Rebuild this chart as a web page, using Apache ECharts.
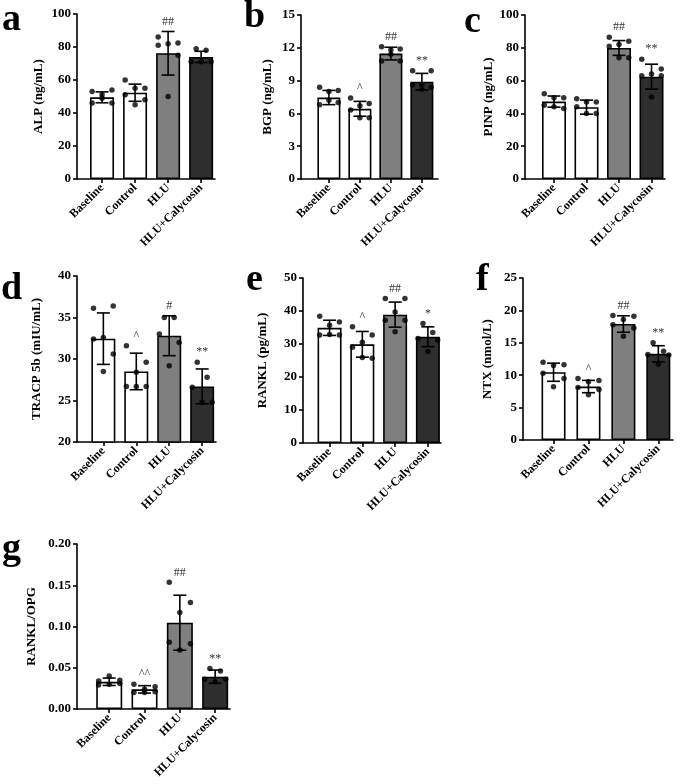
<!DOCTYPE html>
<html><head><meta charset="utf-8">
<script src="https://cdn.jsdelivr.net/npm/echarts@6/dist/echarts.min.js"></script>
<style>html,body{margin:0;padding:0;background:#fff}#c{width:685px;height:784px}</style>
</head><body><div id="c"></div>
<script>
const categories = ['Baseline', 'Control', 'HLU', 'HLU+Calycosin'];

const alpMean = [49.5, 52.3, 76.2, 74.0];
const alpSD = [3.3, 5.2, 13.2, 3.4];
const alpPoints = [[53, 54, 51, 46, 46, 49], [60, 55, 55, 51, 48, 45], [86, 82.5, 82, 81, 75, 50], [79, 78, 71, 71, 71]];
const alpMarks = ['', '', '##', ''];

const bgpMean = [7.45, 6.42, 11.47, 8.9];
const bgpSD = [0.65, 0.68, 0.58, 0.76];
const bgpPoints = [[8.4, 8.1, 8.0, 6.8, 7.0, 7.2], [7.4, 6.9, 6.7, 6.3, 5.6, 5.6], [12.1, 11.9, 11.8, 10.8, 10.8, 11.4], [9.9, 9.9, 8.6, 8.6, 8.4, 8.2]];
const bgpMarks = ['', '^', '##', '**'];

const pinpMean = [47.2, 43.8, 79.9, 62.4];
const pinpSD = [3.4, 4.3, 4.5, 7.6];
const pinpPoints = [[52, 49.5, 49.5, 45, 43, 44], [49, 47, 47, 44, 40, 40], [86.5, 84, 82, 81, 74, 74], [73, 67, 64, 63, 63, 50]];
const pinpMarks = ['', '', '##', '**'];

const tracpMean = [32.45, 28.5, 32.8, 26.7];
const tracpSD = [3.1, 2.2, 2.4, 2.1];
const tracpPoints = [[36.1, 36.4, 32.6, 32.4, 30.6, 28.5], [31.6, 29.6, 28.4, 26.7, 26.7, 26.7], [35.0, 35.0, 33.0, 32.0, 29.2], [29.6, 27.8, 26.6, 24.8, 24.8]];
const tracpMarks = ['', '^', '#', '**'];

const ranklMean = [34.9, 29.9, 38.9, 32.2];
const ranklSD = [2.3, 3.9, 3.8, 3.0];
const ranklPoints = [[38.4, 36.7, 35.7, 32.7, 32.7, 32.9], [35.2, 32.7, 30.5, 29, 25.7, 25.9], [43.8, 43.8, 39.7, 37.2, 37.2, 33.7], [36.2, 33.5, 31.7, 31.2, 27.7]];
const ranklMarks = ['', '^', '##', '*'];

const ntxMean = [10.46, 8.25, 17.9, 13.3];
const ntxSD = [1.4, 0.95, 1.27, 1.25];
const ntxPoints = [[12, 11.6, 11.5, 10.3, 9.5, 8.2], [9.5, 9.2, 9.0, 8.1, 7.8, 7.0], [19.2, 19.1, 18.6, 17.8, 17.3, 16.0], [15.0, 13.7, 13.2, 13.1, 11.7]];
const ntxMarks = ['', '^', '##', '**'];

const ratioMean = [0.033, 0.0238, 0.1046, 0.0392];
const ratioSD = [0.0045, 0.0045, 0.0333, 0.008];
const ratioPoints = [[0.034, 0.035, 0.040, 0.029, 0.031, 0.030], [0.030, 0.027, 0.024, 0.020, 0.021, 0.020], [0.1535, 0.129, 0.117, 0.081, 0.079, 0.0715], [0.049, 0.046, 0.036, 0.036, 0.033]];
const ratioMarks = ['', '^^', '##', '**'];

// layout (dot scatter offsets, in category units)
const J6 = [-0.3, 0.3, 0, -0.3, 0.3, 0];
const J5 = [-0.15, 0.15, -0.3, 0.3, 0];
function jit(n) { return n === 6 ? J6 : J5; }

const FONT = '"Liberation Serif","Times New Roman",serif';
const barColors = ['#ffffff', '#ffffff', '#7f7f7f', '#2e2e2e'];

const panels = [
  { letter: 'a', lx: 2, ly: 28, name: 'ALP (ng/mL)', mean: alpMean, sd: alpSD, pts: alpPoints, marks: alpMarks, ymin: 0, ymax: 100, yint: 20, grid: { left: 77, top: 14, width: 138, height: 165 }, xmin: -0.758, xmax: 3.42, barW: 24, gap: 32, dec: 0 },
  { letter: 'b', lx: 244, ly: 25, name: 'BGP (ng/mL)', mean: bgpMean, sd: bgpSD, pts: bgpPoints, marks: bgpMarks, ymin: 0, ymax: 15, yint: 3, grid: { left: 301, top: 15, width: 137, height: 164 }, xmin: -0.9, xmax: 3.52, barW: 23, gap: 27, dec: 0 },
  { letter: 'c', lx: 464, ly: 30, name: 'PINP (ng/mL)', mean: pinpMean, sd: pinpSD, pts: pinpPoints, marks: pinpMarks, ymin: 0, ymax: 100, yint: 20, grid: { left: 525, top: 15, width: 140, height: 164 }, xmin: -0.892, xmax: 3.415, barW: 24, gap: 29, dec: 0 },
  { letter: 'd', lx: 1, ly: 297, name: 'TRACP 5b (mIU/mL)', mean: tracpMean, sd: tracpSD, pts: tracpPoints, marks: tracpMarks, ymin: 20, ymax: 40, yint: 5, grid: { left: 77, top: 276, width: 139, height: 166 }, xmin: -0.8, xmax: 3.42, barW: 24, gap: 34, dec: 0 },
  { letter: 'e', lx: 246, ly: 288, name: 'RANKL (pg/mL)', mean: ranklMean, sd: ranklSD, pts: ranklPoints, marks: ranklMarks, ymin: 0, ymax: 50, yint: 10, grid: { left: 303, top: 278, width: 138, height: 165 }, xmin: -0.81, xmax: 3.4, barW: 24, gap: 34, dec: 0 },
  { letter: 'f', lx: 476, ly: 288, name: 'NTX (nmol/L)', mean: ntxMean, sd: ntxSD, pts: ntxPoints, marks: ntxMarks, ymin: 0, ymax: 25, yint: 5, grid: { left: 523, top: 278, width: 150, height: 162 }, xmin: -0.874, xmax: 3.42, barW: 24, gap: 29, dec: 0 },
  { letter: 'g', lx: 2, ly: 557, name: 'RANKL/OPG', mean: ratioMean, sd: ratioSD, pts: ratioPoints, marks: ratioMarks, ymin: 0, ymax: 0.2, yint: 0.05, grid: { left: 77, top: 544, width: 153, height: 165 }, xmin: -0.912, xmax: 3.42, barW: 26, gap: 39, dec: 2 }
];

const grids = [], xAxes = [], yAxes = [], series = [], graphics = [];
const axisLineStyle = { color: '#000', width: 1.6 };

panels.forEach((p, i) => {
  grids.push(Object.assign({ containLabel: false }, p.grid));
  xAxes.push({
    type: 'value', gridIndex: i, min: p.xmin, max: p.xmax,
    axisLine: { show: true, onZero: false, lineStyle: axisLineStyle },
    axisTick: { show: true, length: 4, lineStyle: axisLineStyle, customValues: [0, 1, 2, 3] },
    axisLabel: {
      customValues: [0, 1, 2, 3], rotate: 45, margin: 7,
      formatter: v => categories[Math.round(v)] || '',
      fontFamily: FONT, fontWeight: 'bold', fontSize: 12, color: '#000'
    },
    splitLine: { show: false }
  });
  yAxes.push({
    type: 'value', gridIndex: i, min: p.ymin, max: p.ymax, interval: p.yint,
    name: p.name, nameLocation: 'middle', nameRotate: 90, nameGap: p.gap,
    nameTextStyle: { fontFamily: FONT, fontWeight: 'bold', fontSize: 13, color: '#000' },
    axisLine: { show: true, onZero: false, lineStyle: axisLineStyle },
    axisTick: { show: true, length: 4, lineStyle: axisLineStyle },
    axisLabel: {
      margin: 6, fontFamily: FONT, fontWeight: 'bold', fontSize: 13, color: '#000',
      formatter: v => v.toFixed(p.dec)
    },
    splitLine: { show: false }
  });
  series.push({
    type: 'bar', xAxisIndex: i, yAxisIndex: i, barWidth: p.barW, z: 2,
    data: p.mean.map((m, k) => ({ value: [k, m], itemStyle: { color: barColors[k] } })),
    itemStyle: { borderColor: '#000', borderWidth: 1.6 },
    silent: true
  });
  series.push({
    type: 'custom', xAxisIndex: i, yAxisIndex: i, z: 3,
    data: p.mean.map((m, k) => [k, m, p.sd[k]]),
    renderItem: (params, api) => {
      const x = api.value(0), m = api.value(1), s = api.value(2);
      const t = api.coord([x, m + s]), b = api.coord([x, m - s]);
      const hw = 6.5, st = { stroke: '#000', lineWidth: 1.6 };
      return {
        type: 'group', children: [
          { type: 'line', shape: { x1: t[0], y1: t[1], x2: b[0], y2: b[1] }, style: st },
          { type: 'line', shape: { x1: t[0] - hw, y1: t[1], x2: t[0] + hw, y2: t[1] }, style: st },
          { type: 'line', shape: { x1: b[0] - hw, y1: b[1], x2: b[0] + hw, y2: b[1] }, style: st }
        ]
      };
    },
    silent: true
  });
  const dots = [];
  p.pts.forEach((arr, k) => {
    const j = jit(arr.length);
    arr.forEach((v, n) => dots.push([k + j[n], v]));
  });
  series.push({
    type: 'scatter', xAxisIndex: i, yAxisIndex: i, z: 4, symbolSize: 5.5,
    itemStyle: { color: '#000' }, data: dots, silent: true
  });
  series.push({
    type: 'custom', xAxisIndex: i, yAxisIndex: i, z: 5,
    data: p.mean.map((m, k) => [k, Math.max(m + p.sd[k], Math.max.apply(null, p.pts[k])), p.marks[k]]),
    renderItem: (params, api) => {
      const txt = p.marks[params.dataIndex];
      if (!txt) return null;
      const c = api.coord([api.value(0), api.value(1)]);
      return {
        type: 'text', style: {
          x: c[0], y: c[1] - 4, text: txt, align: 'center', verticalAlign: 'bottom',
          fontFamily: FONT, fontSize: 12, fill: '#333'
        }
      };
    },
    silent: true
  });
  graphics.push({
    type: 'text', left: p.lx, top: p.ly - 27,
    style: { text: p.letter, fontFamily: FONT, fontWeight: 'bold', fontSize: 38, fill: '#000' }
  });
});

const chart = echarts.init(document.getElementById('c'), null, { renderer: 'canvas' });
chart.setOption({
  animation: false,
  backgroundColor: '#fff',
  grid: grids, xAxis: xAxes, yAxis: yAxes, series: series, graphic: graphics
});
</script>
</body></html>
